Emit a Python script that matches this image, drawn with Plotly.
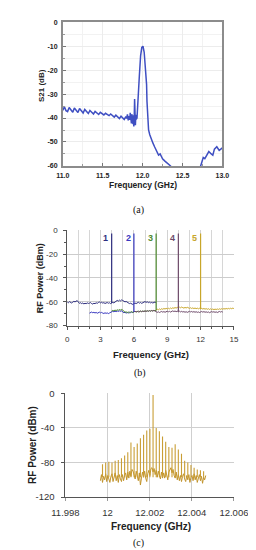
import numpy as np
import plotly.graph_objects as go

W, H = 256, 550
def px(x): return x / W
def py(y): return 1 - y / H

# ---------------- Panel (a): S21 ----------------
a_freq = [11.000, 11.020, 11.040, 11.060, 11.080, 11.100, 11.125, 11.145, 11.165, 11.190, 11.210,
          11.230, 11.255, 11.275, 11.295, 11.320, 11.340, 11.360, 11.385, 11.405, 11.425, 11.450,
          11.470, 11.490, 11.515, 11.535, 11.555, 11.580, 11.600, 11.620, 11.645, 11.665, 11.685,
          11.710, 11.730, 11.750, 11.770, 11.790, 11.800, 11.810, 11.820, 11.830, 11.840, 11.845,
          11.850, 11.855, 11.860, 11.865, 11.870, 11.875, 11.880, 11.885, 11.890, 11.895, 11.900,
          11.905, 11.910, 11.915, 11.920, 11.930, 11.945, 11.960, 11.975, 11.990, 12.005, 12.020,
          12.030, 12.040, 12.045, 12.050, 12.055, 12.065, 12.075, 12.090, 12.110, 12.130, 12.150,
          12.180, 12.200, 12.220, 12.250, 12.280, 12.320, 12.350, 12.370, 12.500, 12.700, 12.720,
          12.740, 12.760, 12.780, 12.800, 12.830, 12.860, 12.880, 12.900, 12.930, 12.960, 13.000]
a_s21 = [-36.8, -35.3, -36.9, -37.3, -35.6, -36.5, -37.6, -35.8, -36.8, -37.7, -36.0,
         -37.0, -37.9, -36.4, -37.3, -38.1, -36.8, -37.6, -38.3, -37.2, -37.9, -38.5,
         -37.6, -38.2, -38.7, -38.0, -38.4, -39.0, -38.3, -38.8, -39.6, -38.8, -39.3,
         -40.2, -39.2, -39.8, -40.6, -39.4, -40.2, -38.5, -41.0, -39.2, -40.8, -37.8,
         -41.5, -39.0, -42.2, -38.4, -41.0, -39.6, -42.6, -38.8, -43.5, -40.0, -32.0,
         -41.2, -43.0, -38.6, -40.5, -40.0, -33.0, -22.0, -14.0, -10.5, -10.0, -12.5,
         -17.0, -22.5, -20.5, -26.0, -33.0, -40.0, -45.0, -47.0, -49.0, -50.5, -52.0,
         -54.0, -55.5, -55.0, -57.0, -58.0, -59.0, -60.0, -61.0, -65.0, -63.0, -61.0,
         -58.0, -56.5, -57.0, -56.0, -54.0, -55.0, -55.5, -53.0, -52.0, -53.5, -52.5]
a_xticks = [11.0, 11.5, 12.0, 12.5, 13.0]
a_xticklabels = ["11.0", "11.5", "12.0", "12.5", "13.0"]
a_yticks = [0, -10, -20, -30, -40, -50, -60]

# ---------------- Panel (b): RF power, five channels ----------------
b_names = ["1", "2", "3", "4", "5"]
b_colors = ["#2e2e7e", "#3838c0", "#4e8a2e", "#6e4a6a", "#c8a62a"]
b_spike_freq = [4.0, 6.0, 8.0, 10.0, 12.0]
b_spike_top = [-2.7, -2.7, -2.7, -2.7, -2.7]
b_floor_start = [0.0, 2.0, 4.0, 6.0, 8.0]
b_floor_stop = [8.0, 6.0, 8.0, 14.0, 15.0]
b_floor_1 = [-60.2,-60.8,-59.9,-60.5,-61.0,-60.3,-59.6,-60.1,-59.4,-59.0,-60.2,-61.3,-60.8,-61.5,-61.0,-61.8,-61.2,-61.6,-60.9,-61.4,
             -61.1,-60.7,-61.5,-61.9,-61.2,-61.6,-60.8,-61.3,-60.6,-60.2,-60.9,-60.4,-61.1,-60.7,-61.4,-61.0,-60.6,-61.2,-60.8,-61.5,
             -61.1,-60.5,-60.9,-60.3,-59.6,-58.8,-59.4,-58.6,-59.2,-58.4,-58.9,-59.5,-60.1,-59.7,-60.4,-60.9,-61.5,-61.2,-61.8,-62.2,
             -61.6,-61.0,-61.5,-60.8,-60.4,-61.1,-60.6,-61.3,-60.9,-60.2,-59.8,-60.5,-60.0,-60.7,-60.3,-60.9,-60.5,-61.0,-60.6,-60.2,-60.8]
b_floor_2 = [-69.5,-69.0,-68.6,-69.2,-68.8,-69.4,-68.9,-69.6,-69.1,-68.7,-69.3,-68.9,-69.5,-69.8,-69.2,-69.7,-69.3,-69.9,-69.4,-68.8,
             -68.2,-67.9,-68.4,-67.8,-68.3,-67.7,-68.1,-67.6,-68.0,-67.5,-68.6,-69.2,-68.8,-69.5,-69.0,-69.4,-68.7,-69.1,-68.6,-69.0,-68.5]
b_floor_3 = [-67.8,-67.2,-67.6,-66.9,-67.4,-66.7,-67.1,-66.5,-66.9,-66.4,-67.0,-68.2,-68.8,-68.4,-69.0,-68.6,-69.2,-68.7,-68.3,-68.9,
             -68.5,-68.0,-68.6,-68.2,-67.8,-68.4,-67.9,-68.3,-67.7,-68.1,-67.6,-68.0,-67.5,-67.9,-67.4,-67.8,-67.3,-67.7,-67.2,-67.6,-67.0]
b_floor_4 = [-68.4,-67.9,-68.5,-68.0,-68.6,-68.1,-67.7,-68.3,-67.8,-68.2,-67.6,-68.1,-67.5,-68.0,-67.4,-67.9,-67.3,-67.8,-67.2,-67.7,
             -68.3,-68.9,-68.4,-69.0,-68.5,-68.1,-68.7,-68.2,-68.8,-68.3,-67.9,-68.4,-68.0,-68.6,-68.1,-67.6,-68.2,-67.7,-68.3,-67.8,
             -68.4,-67.9,-68.5,-68.0,-68.6,-68.2,-68.8,-68.3,-68.9,-68.4,-68.0,-68.5,-68.1,-68.7,-68.2,-68.8,-68.3,-68.9,-68.5,-69.0,
             -68.6,-68.1,-68.7,-68.2,-68.8,-68.4,-68.9,-68.5,-69.1,-68.6,-68.2,-68.7,-68.3,-68.9,-68.4,-69.0,-68.5,-68.1,-68.6,-68.2,-68.7]
b_floor_5 = [-66.8,-66.2,-66.7,-66.0,-66.5,-65.8,-66.3,-65.6,-66.1,-65.5,-66.0,-65.4,-65.9,-65.2,-65.7,-65.0,-65.5,-64.8,-65.3,-64.6,
             -65.1,-64.5,-65.0,-64.4,-64.9,-65.3,-64.7,-65.2,-64.6,-65.1,-65.5,-65.0,-65.6,-65.1,-65.7,-65.2,-65.8,-65.3,-65.9,-65.4,
             -66.0,-65.5,-66.1,-65.6,-66.2,-65.7,-66.3,-65.8,-66.4,-65.9,-66.5,-66.0,-66.6,-66.1,-66.5,-66.0,-66.4,-65.9,-66.3,-65.8,
             -66.2,-65.7,-66.1,-65.6,-66.0,-65.5,-65.9,-65.4,-65.8,-65.3,-65.7]
b_floors = [b_floor_1, b_floor_2, b_floor_3, b_floor_4, b_floor_5]
b_xticks = [0, 3, 6, 9, 12, 15]
b_yticks = [0, -20, -40, -60, -80]

# ---------------- Panel (c): frequency comb ----------------
c_floor_start, c_floor_stop = 11.99966, 12.00466
c_floor = [-101,-94,-103,-96,-100,-93,-102,-95,-99,-103,-96,
           -93,-102,-96,-92,-101,-95,-103,-94,-99,-102,
           -94,-101,-95,-92,-100,-91,-98,-90,-96,-88,
           -90,-95,-99,-90,-97,-101,-92,-106,-98,-91,
           -97,-90,-98,-102,-93,-89,-95,-87,-86,-91,
           -87,-94,-89,-97,-90,-95,-99,-91,-98,-92,
           -98,-89,-96,-100,-91,-88,-86,-92,-88,-95,
           -98,-91,-100,-94,-101,-95,-102,-96,-93,-99,
           -102,-95,-100,-94,-103,-97,-95,-101,-93,-100,
           -95,-103,-97,-94,-101,-96,-104,-97,-100,-95]
c_line_freq = [11.99976, 11.99991, 12.00006, 12.00021, 12.00036, 12.00051, 12.00066, 12.00081,
               12.00096, 12.00111, 12.00126, 12.00141, 12.00156, 12.00171, 12.00186, 12.00201,
               12.00216, 12.00231, 12.00246, 12.00261, 12.00276, 12.00291, 12.00306, 12.00321,
               12.00336, 12.00351, 12.00366, 12.00381, 12.00396, 12.00411, 12.00426, 12.00441, 12.00456]
c_line_peak = [-82, -80, -79, -80, -78, -77, -75, -72, -68, -57, -62, -58, -52, -48, -43, -41,
               -2, -40, -44, -50, -56, -62, -63, -59, -65, -70, -78, -80, -83, -86, -88, -89, -90]
c_line_base = -97
c_xticks = [11.998, 12.0, 12.002, 12.004, 12.006]
c_xticklabels = ["11.998", "12", "12.002", "12.004", "12.006"]
c_yticks = [0, -40, -80, -120]
c_yticklabels = ["0", "-40", "-80", "-120"]

fig = go.Figure()

# panel a trace
fig.add_trace(go.Scatter(x=a_freq, y=a_s21, mode="lines", xaxis="x", yaxis="y",
                         line=dict(color="#3f4fc2", width=1.5), showlegend=False))

# panel b traces
for name, col, fs, ft, start, stop, floor in zip(b_names, b_colors, b_spike_freq, b_spike_top,
                                                 b_floor_start, b_floor_stop, b_floors):
    xs = np.linspace(start, stop, len(floor))
    fig.add_trace(go.Scatter(x=xs, y=floor, mode="lines", xaxis="x2", yaxis="y2",
                             line=dict(color=col, width=1), showlegend=False))
for name, col, fs, ft, start, stop, floor in zip(b_names, b_colors, b_spike_freq, b_spike_top,
                                                 b_floor_start, b_floor_stop, b_floors):
    base = floor[int(round((fs - start) / (stop - start) * (len(floor) - 1)))]
    fig.add_trace(go.Scatter(x=[fs, fs], y=[base, ft], mode="lines", xaxis="x2", yaxis="y2",
                             line=dict(color=col, width=1.2), showlegend=False))

# panel c traces
cx = np.linspace(c_floor_start, c_floor_stop, len(c_floor))
fig.add_trace(go.Scatter(x=cx, y=c_floor, mode="lines", xaxis="x3", yaxis="y3",
                         line=dict(color="#c2942c", width=1), showlegend=False))
lx, ly = [], []
for f, p in zip(c_line_freq, c_line_peak):
    lx += [f, f, None]
    ly += [c_line_base, p, None]
fig.add_trace(go.Scatter(x=lx, y=ly, mode="lines", xaxis="x3", yaxis="y3",
                         line=dict(color="#c99e35", width=1.1), showlegend=False))

afont = dict(family="Liberation Sans, Arial", size=7, color="#222", weight="bold")
regfont = dict(family="Liberation Sans, Arial", size=8, color="#333")
cfont = dict(family="Liberation Sans, Arial", size=9.5, color="#333")

layout = dict(
    width=W, height=H, margin=dict(l=0, r=0, t=0, b=0),
    paper_bgcolor="white", plot_bgcolor="white", showlegend=False,
    # panel a
    xaxis=dict(domain=[px(46), px(226)], anchor="y", range=[11.0, 13.0],
               tickvals=a_xticks, ticktext=a_xticklabels,
               showline=True, linecolor="#8c8c8c", linewidth=1.5, mirror=True,
               showgrid=True, gridcolor="#ececec", gridwidth=1,
               ticks="inside", ticklen=3, tickcolor="#777",
               minor=dict(dtick=0.25, ticks="inside", ticklen=2, showgrid=True, gridcolor="#f2f2f2", tickcolor="#999"),
               tickfont=afont, ticklabelstandoff=2, zeroline=False),
    yaxis=dict(domain=[py(155), py(8.5)], anchor="x", range=[-60, 0],
               tickvals=a_yticks, ticktext=[str(v) for v in a_yticks],
               showline=True, linecolor="#8c8c8c", linewidth=1.5, mirror=True,
               showgrid=True, gridcolor="#ececec",
               ticks="inside", ticklen=3, tickcolor="#777",
               minor=dict(dtick=5, ticks="inside", ticklen=2, showgrid=True, gridcolor="#f2f2f2", tickcolor="#999"),
               tickfont=afont, ticklabelstandoff=2, zeroline=False),
    # panel b
    xaxis2=dict(domain=[px(51), px(239)], anchor="y2", range=[0, 15],
                tickvals=b_xticks, showline=True, linecolor="#555", linewidth=1,
                showgrid=True, gridcolor="#d2d2d2",
                minor=dict(dtick=1, showgrid=True, gridcolor="#d6d6d6", ticks="outside", ticklen=2, tickcolor="#555"),
                ticks="outside", ticklen=3, tickcolor="#555",
                tickfont=regfont, ticklabelstandoff=3, zeroline=False),
    yaxis2=dict(domain=[py(318), py(220.7)], anchor="x2", range=[-80, 0],
                tickvals=b_yticks, ticktext=[str(v) for v in b_yticks],
                showline=True, linecolor="#555", linewidth=1,
                showgrid=True, gridcolor="#cccccc",
                minor=dict(dtick=10, ticks="outside", ticklen=2, tickcolor="#555"),
                ticks="outside", ticklen=3, tickcolor="#555",
                tickfont=regfont, ticklabelstandoff=4, zeroline=False),
    # panel c
    xaxis3=dict(domain=[px(49), px(239)], anchor="y3", range=[11.998, 12.006],
                tickvals=c_xticks, ticktext=c_xticklabels,
                showline=True, linecolor="#555", linewidth=1,
                showgrid=True, gridcolor="#cfcfcf",
                ticks="outside", ticklen=3, tickcolor="#999",
                tickfont=cfont, ticklabelstandoff=3, zeroline=False),
    yaxis3=dict(domain=[py(493), py(387)], anchor="x3", range=[-120, 0],
                tickvals=c_yticks, ticktext=c_yticklabels,
                showline=True, linecolor="#555", linewidth=1,
                showgrid=True, gridcolor="#cfcfcf",
                ticks="outside", ticklen=3, tickcolor="#555",
                tickfont=cfont, ticklabelstandoff=5, zeroline=False),
)
fig.update_layout(**layout)

def ann(text, x, y, size, bold=True, angle=0, family="Liberation Sans, Arial", color="#222"):
    t = "<b>%s</b>" % text if bold else text
    fig.add_annotation(text=t, x=x, y=y, xref="paper", yref="paper", showarrow=False,
                       textangle=angle, xanchor="center", yanchor="middle",
                       font=dict(family=family, size=size, color=color))

# axis titles and captions
ann("S21 (dB)", px(22), py(73), 8, angle=-90)
ann("Frequency (GHz)", px(136), py(174), 8.5)
ann("(a)", px(131), py(200.5), 10, bold=False, family="Liberation Serif, Times New Roman", color="#111")
ann("RF Power (dBm)", px(20), py(270), 9, angle=-90)
ann("Frequency (GHz)", px(146), py(347), 9.5)
ann("(b)", px(133), py(366), 10, bold=False, family="Liberation Serif, Times New Roman", color="#111")
ann("RF Power (dBm)", px(11), py(440), 10, angle=-90)
ann("Frequency (GHz)", px(146), py(523), 10)
ann("(c)", px(131), py(540), 10, bold=False, family="Liberation Serif, Times New Roman", color="#111")

# channel labels in panel b
for name, col, fs in zip(b_names, b_colors, b_spike_freq):
    fig.add_annotation(text="<b>%s</b>" % name, x=fs - 0.12, y=-6.5, xref="x2", yref="y2",
                       showarrow=False, xanchor="right", yanchor="middle",
                       font=dict(family="Liberation Sans, Arial", size=9, color=col))

fig.write_html("out.html")
